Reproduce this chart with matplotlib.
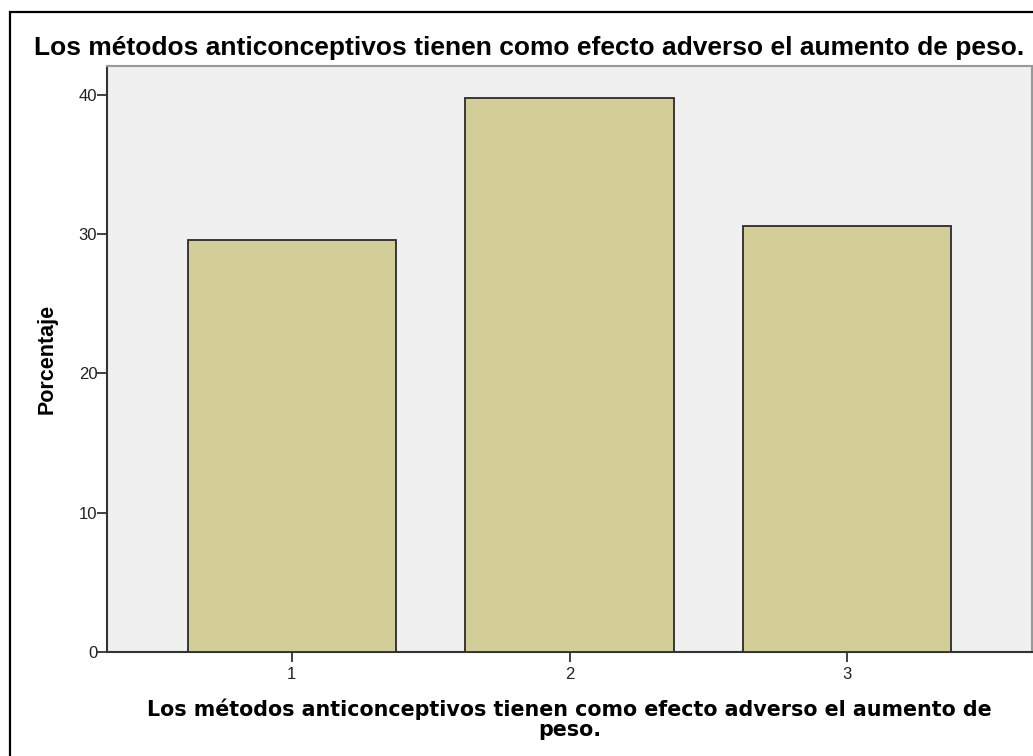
import matplotlib.pyplot as plt
from matplotlib.patches import Rectangle

# Data
categorias = [1, 2, 3]
porcentaje = [29.6, 39.8, 30.6]
yticks = [0, 10, 20, 30, 40]
titulo = 'Los métodos anticonceptivos tienen como efecto adverso el aumento de peso.'
xlabel = 'Los métodos anticonceptivos tienen como efecto adverso el aumento de\npeso.'

W, H = 1033, 756
fig = plt.figure(figsize=(W / 100, H / 100), dpi=100)
fig.patch.set_facecolor('white')

# outer frame (only top and left visible in the picture)
fig.patches.append(Rectangle((10 / W, -0.1), 1.2, (H - 12) / H + 0.1, transform=fig.transFigure,
                             fill=False, edgecolor='black', linewidth=1.6, zorder=0))

ax = fig.add_axes([107 / W, 104 / H, 925 / W, 586 / H])
ax.set_facecolor('#F0F0F0')
ax.bar(categorias, porcentaje, width=0.75, color='#D3CE97', edgecolor='#2b2b2b', linewidth=1.3, zorder=3)

ax.set_xlim(0.335, 3.665)
ax.set_ylim(0, 42.07)
ax.set_xticks(categorias)
ax.set_yticks(yticks)
ax.tick_params(axis='both', direction='out', length=7, width=1.3, color='#333333',
               labelsize=12, labelcolor='#222222')
ax.tick_params(axis='y', pad=0)
ax.tick_params(axis='x', pad=4)
for lab in ax.get_xticklabels() + ax.get_yticklabels():
    lab.set_family('Liberation Sans')

for s in ['left', 'bottom']:
    ax.spines[s].set_color('#333333')
    ax.spines[s].set_linewidth(1.5)
for s in ['top', 'right']:
    ax.spines[s].set_color('#999999')
    ax.spines[s].set_linewidth(1.5)

ax.set_ylabel('Porcentaje', family='Liberation Sans', fontweight='bold', fontsize=15.5, labelpad=15)
ax.set_xlabel(xlabel, family='DejaVu Sans', fontweight='bold', fontsize=14.9, linespacing=0.95, labelpad=12)

fig.text(34 / W, 1 - 48 / H, titulo, family='Liberation Sans', fontweight='bold', fontsize=19,
         ha='left', va='center')

fig.savefig('out.png', dpi=100)
